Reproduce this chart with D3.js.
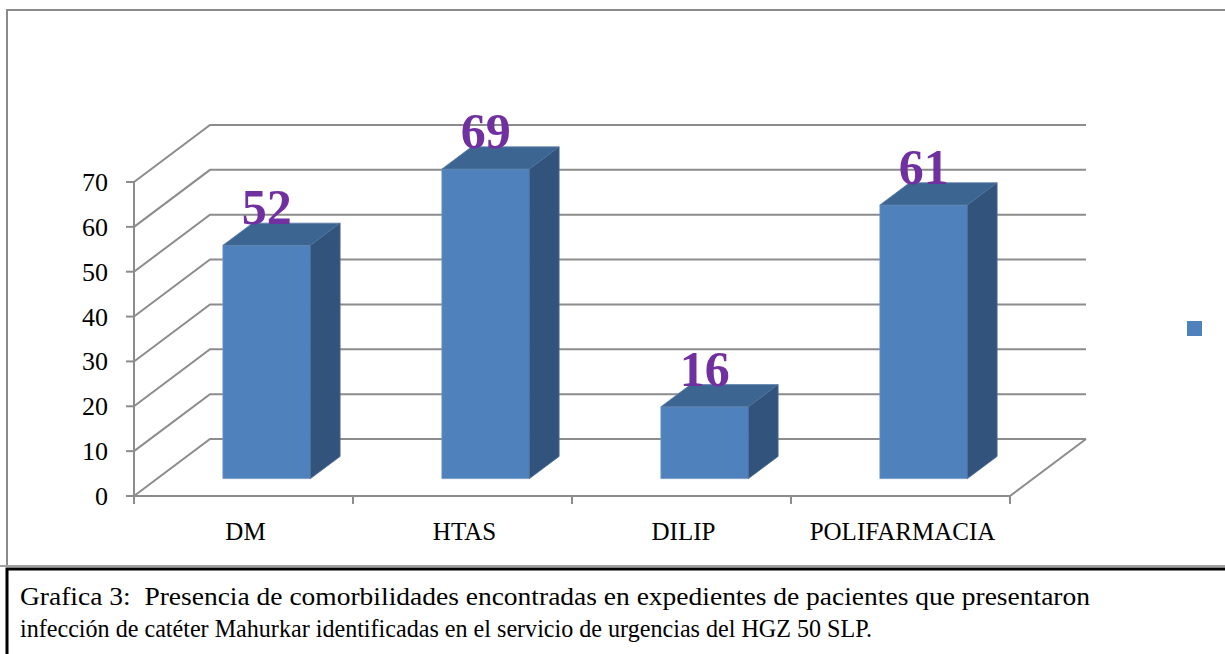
<!DOCTYPE html>
<head>
<meta charset="utf-8">
<style>
    body { margin: 0; background: #fff; }
    text { font-family: "Liberation Serif", "DejaVu Serif", serif; }
    text.caption { white-space: pre; }
</style>
</head>
<body>
    <script src="https://d3js.org/d3.v7.min.js"></script>
    <script>

    ////////// DATA //////////

    const categories = ['DM', 'HTAS', 'DILIP', 'POLIFARMACIA'];
    const values = [52, 69, 16, 61];
    const yTicks = [0, 10, 20, 30, 40, 50, 60, 70];
    const captionLines = [
        'Grafica 3:  Presencia de comorbilidades encontradas en expedientes de pacientes que presentaron',
        'infección de catéter Mahurkar identificadas en el servicio de urgencias del HGZ 50 SLP.'
    ];
    const captionWidths = [1070, 852];

    ////////// SETUP //////////

    const W = 1225, H = 654;
    const gridColor = '#8c8c8c';
    const depth = { x: 76, y: -57 };      // offset of the back wall
    const barDepth = [0.305, 0.695];      // bar front / back as fraction of the depth

    let svg = d3.select('body').append('svg')
        .attr('width', W)
        .attr('height', H);

    let x = d3.scaleBand().domain(categories).range([134, 1010]).padding(0);
    let y = d3.scaleLinear().domain([0, 70]).range([496, 182]);

    // outer chart frame
    svg.append('path')
        .attr('d', 'M7,566 V10 H1225')
        .attr('fill', 'none')
        .attr('stroke', '#8a8a8a')
        .attr('stroke-width', 2);
    svg.append('line')
        .attr('x1', 0).attr('x2', W).attr('y1', 566).attr('y2', 566)
        .attr('stroke', '#a0a0a0').attr('stroke-width', 2);

    ////////// WALLS //////////

    let grid = svg.append('g')
        .attr('fill', 'none')
        .attr('stroke', gridColor)
        .attr('stroke-width', 2);

    const x0 = x.range()[0], x1 = x.range()[1];

    // side wall diagonals + back wall lines
    grid.selectAll('path.grid').data(yTicks)
        .enter().append('path')
            .attr('class', 'grid')
            .attr('d', d => 'M' + x0 + ',' + y(d) + ' L' + (x0 + depth.x) + ',' + (y(d) + depth.y) +
                ' H' + (x1 + depth.x));

    // floor edges
    grid.append('path')
        .attr('d', 'M' + x0 + ',' + y(0) + ' H' + x1 + ' L' + (x1 + depth.x) + ',' + (y(0) + depth.y));

    // y axis
    grid.append('line')
        .attr('x1', x0).attr('x2', x0).attr('y1', y(0)).attr('y2', y(70));
    grid.selectAll('line.ytick').data(yTicks)
        .enter().append('line')
            .attr('class', 'ytick')
            .attr('x1', x0 - 8).attr('x2', x0)
            .attr('y1', d => y(d)).attr('y2', d => y(d));

    // x axis ticks on category boundaries
    let bounds = categories.map(c => x(c)).concat([x1]);
    grid.selectAll('line.xtick').data(bounds)
        .enter().append('line')
            .attr('class', 'xtick')
            .attr('x1', d => d).attr('x2', d => d)
            .attr('y1', y(0)).attr('y2', y(0) + 8);

    svg.selectAll('text.ylab').data(yTicks)
        .enter().append('text')
            .attr('class', 'ylab')
            .attr('x', 108)
            .attr('y', d => y(d) + 9)
            .attr('text-anchor', 'end')
            .attr('font-size', 26)
            .attr('fill', '#000')
            .text(d => d);

    svg.selectAll('text.xlab').data(categories)
        .enter().append('text')
            .attr('class', 'xlab')
            .attr('x', d => x(d) + x.bandwidth() / 2 + 2)
            .attr('y', 540)
            .attr('text-anchor', 'middle')
            .attr('font-size', 25)
            .attr('fill', '#000')
            .text(d => d);

    ////////// BARS //////////

    const bw = x.bandwidth() * 0.4;
    const fdx = depth.x * barDepth[0], fdy = depth.y * barDepth[0];
    const bdx = depth.x * barDepth[1], bdy = depth.y * barDepth[1];

    let bars = svg.selectAll('g.bar').data(categories.map((c, i) => ({ cat: c, value: values[i] })))
        .enter().append('g')
            .attr('class', 'bar');

    const pts = arr => arr.map(p => p.join(',')).join(' ');

    bars.each(function (d) {
        let g = d3.select(this);
        let cx = x(d.cat) + x.bandwidth() / 2;
        let l = cx - bw / 2 + fdx, r = cx + bw / 2 + fdx;
        let b = y(0) + fdy, t = y(d.value) + fdy;
        let ddx = bdx - fdx, ddy = bdy - fdy;
        d.lx = (l + r) / 2;
        d.ly = t + ddy;

        g.append('polygon')   // front
            .attr('points', pts([[l, b], [l, t], [r, t], [r, b]]))
            .attr('fill', '#4f81bd')
            .attr('stroke', '#6f95c6').attr('stroke-width', 0.8);
        g.append('polygon')   // top
            .attr('points', pts([[l, t], [l + ddx, t + ddy], [r + ddx, t + ddy], [r, t]]))
            .attr('fill', '#3c6592')
            .attr('stroke', '#5b7fab').attr('stroke-width', 0.8);
        g.append('polygon')   // side
            .attr('points', pts([[r, t], [r + ddx, t + ddy], [r + ddx, b + ddy], [r, b]]))
            .attr('fill', '#32547c')
            .attr('stroke', '#4d6f98').attr('stroke-width', 0.8);
    });

    bars.append('text')
        .attr('x', d => d.lx)
        .attr('y', d => d.ly + 1)
        .attr('text-anchor', 'middle')
        .attr('font-size', 50)
        .attr('font-weight', 'bold')
        .attr('fill', '#7030a0')
        .text(d => d.value);

    ////////// LEGEND //////////

    svg.append('rect')
        .attr('x', 1187).attr('y', 321)
        .attr('width', 15).attr('height', 15)
        .attr('fill', '#4f81bd');

    ////////// CAPTION //////////

    svg.append('path')
        .attr('d', 'M7,' + H + ' V569 H' + W)
        .attr('fill', 'none')
        .attr('stroke', '#000')
        .attr('stroke-width', 3);

    svg.selectAll('text.caption').data(captionLines)
        .enter().append('text')
            .attr('class', 'caption')
            .attr('x', 20)
            .attr('y', (d, i) => 605 + i * 32)
            .attr('font-size', 25)
            .attr('textLength', (d, i) => captionWidths[i])
            .attr('lengthAdjust', 'spacingAndGlyphs')
            .attr('fill', '#000')
            .text(d => d);

    </script>
</body>
